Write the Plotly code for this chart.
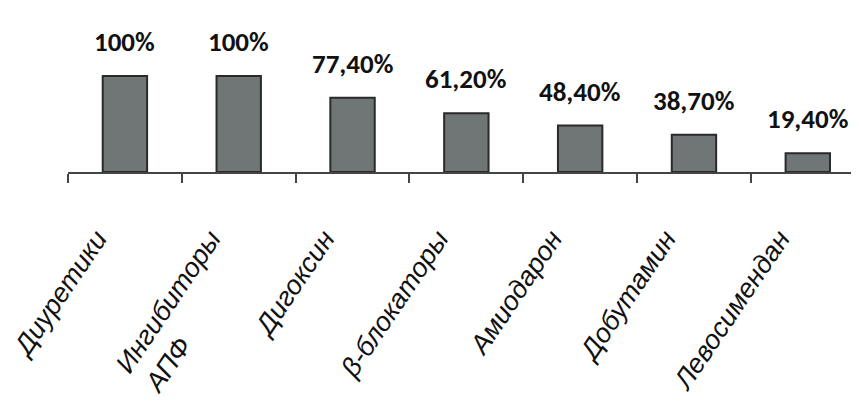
import plotly.graph_objects as go

NB = "\u00a0"
categories = ["Диуретики", "Ингибиторы<br>АПФ" + NB * 14, "Дигоксин", "β-блокаторы",
              "Амиодарон", "Добутамин", "Левосимендан"]
values = [100, 100, 77.4, 61.2, 48.4, 38.7, 19.4]
value_labels = ["100%", "100%", "77,40%", "61,20%", "48,40%", "38,70%", "19,40%"]

fig = go.Figure()
fig.add_trace(go.Bar(
    x=categories, y=values,
    marker=dict(color="#707575", line=dict(color="#2a2a2a", width=2)),
    width=0.39,
    hoverinfo="skip",
))

for c, v, t in zip(categories, values, value_labels):
    fig.add_annotation(
        x=c, y=v, text=t, showarrow=False, yanchor="bottom", yshift=16,
        font=dict(family="Carlito, Lato, Liberation Sans", size=27,
                  color="#111111", weight="bold"),
    )

fig.update_layout(
    width=851, height=399,
    margin=dict(l=60, r=0, t=12, b=235, autoexpand=False),
    paper_bgcolor="white", plot_bgcolor="white",
    showlegend=False,
    xaxis=dict(
        range=[-0.5, 6.45], automargin=False,
        showline=True, linecolor="#444444", linewidth=2,
        ticks="outside", tickson="boundaries", ticklen=9, tickcolor="#444444", tickwidth=1.5,
        tickangle=-56,
        ticklabelstandoff=38, ticklabelshift=-28,
        tickfont=dict(family="Liberation Sans, Arial", size=27, color="#111111", style="italic"),
        showgrid=False, zeroline=False,
        fixedrange=True,
    ),
    yaxis=dict(
        range=[0, 158.3], visible=False, showgrid=False, zeroline=False, fixedrange=True,
        automargin=False,
    ),
)

fig.write_html("out.html")
